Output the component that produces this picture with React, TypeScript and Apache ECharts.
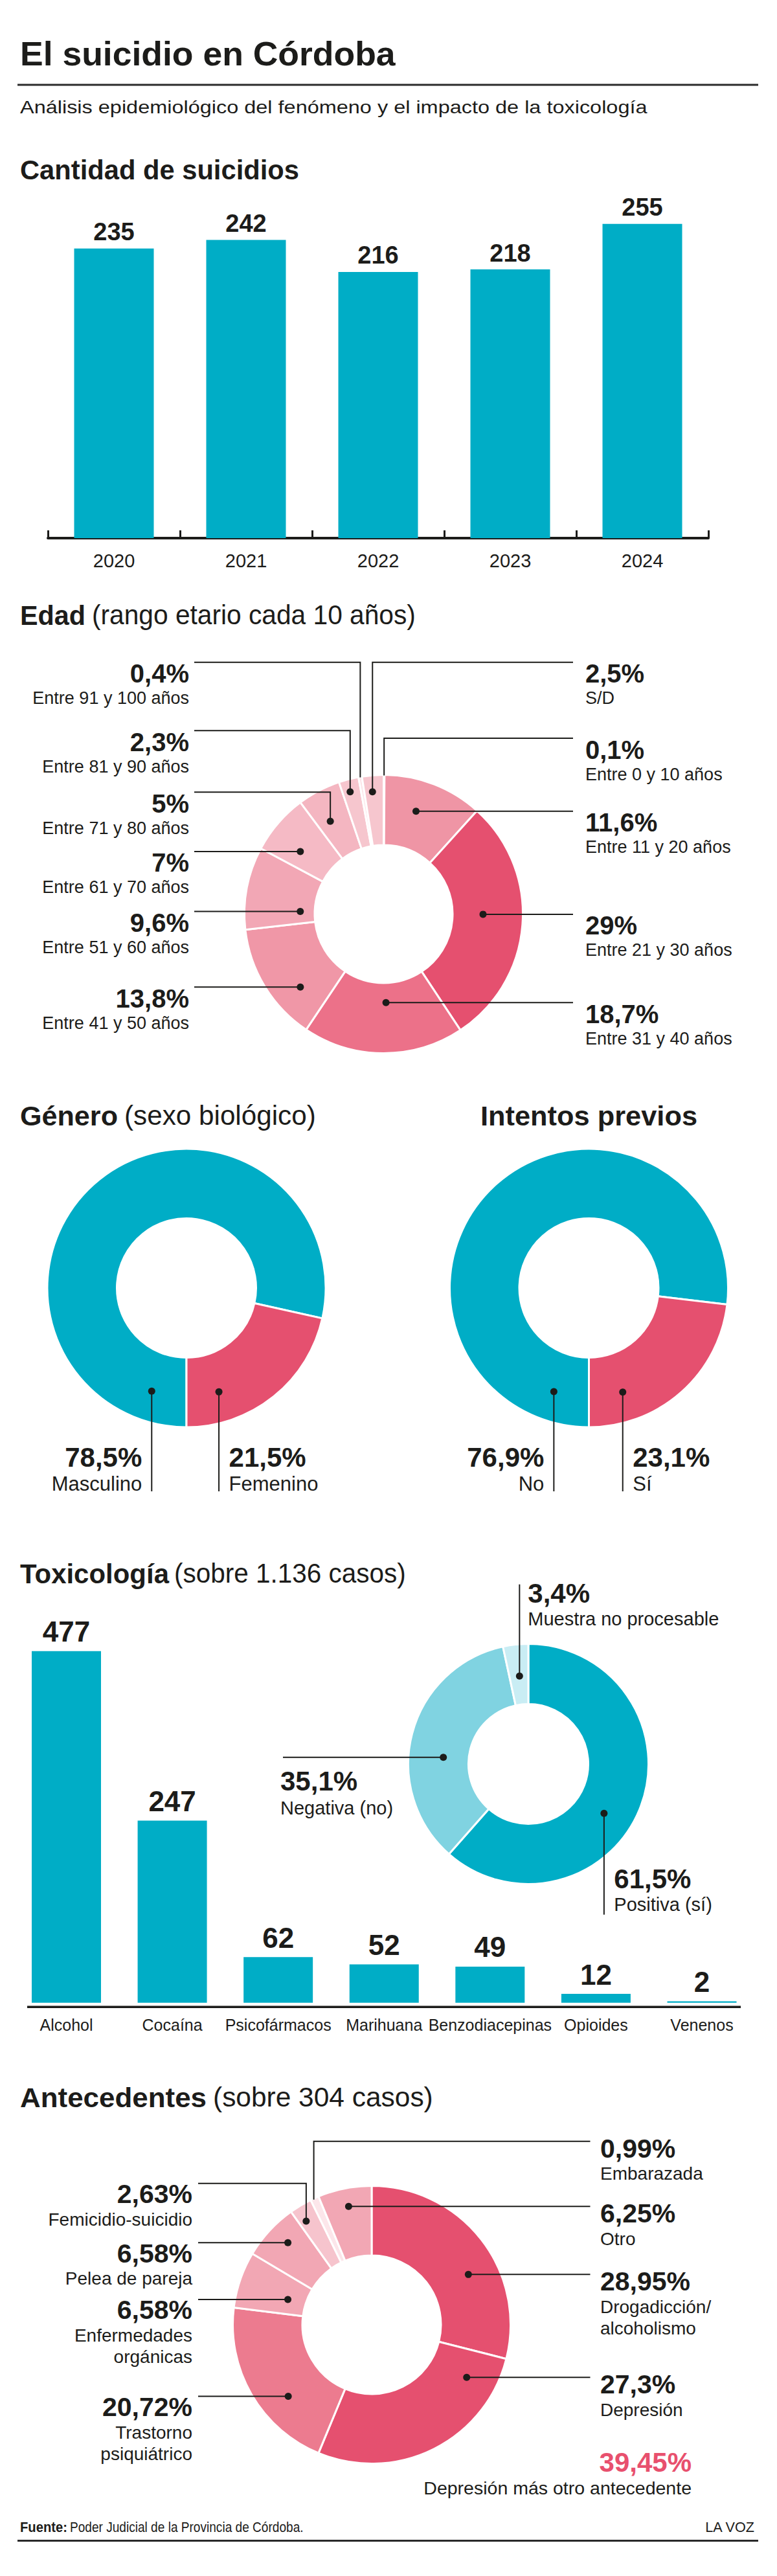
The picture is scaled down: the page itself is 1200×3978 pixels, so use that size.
import React, { useEffect, useRef } from "react";
import * as echarts from "echarts";

const PAGE_W = 1200;
const PAGE_H = 3978;
const FONT = '"Liberation Sans", Arial, Helvetica, sans-serif';
const INK = "#1c1c1a";
const TEAL = "#00adc6";
const RED = "#e5506f";

// Cantidad de suicidios
const years = ["2020", "2021", "2022", "2023", "2024"];
const suicidesPerYear = [235, 242, 216, 218, 255];

// Edad (rango etario cada 10 años), clockwise from 12 o'clock
const ageGroups = [
  "Entre 0 y 10 años",
  "Entre 11 y 20 años",
  "Entre 21 y 30 años",
  "Entre 31 y 40 años",
  "Entre 41 y 50 años",
  "Entre 51 y 60 años",
  "Entre 61 y 70 años",
  "Entre 71 y 80 años",
  "Entre 81 y 90 años",
  "Entre 91 y 100 años",
  "S/D",
];
const agePct = [0.1, 11.6, 29, 18.7, 13.8, 9.6, 7, 5, 2.3, 0.4, 2.5];
const ageColors = ["#f7c8d1", "#ef95a5", "#e5506f", "#ec7189", "#f097a7", "#f2a7b5", "#f5bac5", "#f4b6c1", "#f6c6ce", "#fce4e8", "#f6c6ce"];

// Género (sexo biológico)
const genders = ["Masculino", "Femenino"];
const genderPct = [78.5, 21.5];

// Intentos previos
const attempts = ["No", "Sí"];
const attemptPct = [76.9, 23.1];
const pairColors = [TEAL, RED];

// Toxicología (sobre 1.136 casos)
const substances = ["Alcohol", "Cocaína", "Psicofármacos", "Marihuana", "Benzodiacepinas", "Opioides", "Venenos"];
const substanceCases = [477, 247, 62, 52, 49, 12, 2];
const toxResults = ["Positiva (sí)", "Negativa (no)", "Muestra no procesable"];
const toxPct = [61.5, 35.1, 3.4];
const toxColors = ["#00adc6", "#80d3e1", "#c9edf4"];

// Antecedentes (sobre 304 casos)
const histories = [
  ["Drogadicción/", "alcoholismo"],
  ["Depresión"],
  ["Trastorno", "psiquiátrico"],
  ["Enfermedades", "orgánicas"],
  ["Pelea de pareja"],
  ["Femicidio-suicidio"],
  ["Embarazada"],
  ["Otro"],
];
const historyPct = [28.95, 27.3, 20.72, 6.58, 6.58, 2.63, 0.99, 6.25];
const historyColors = ["#e5506f", "#e5506f", "#ec7b8f", "#f2a7b4", "#f2a7b4", "#f6c4cd", "#fce6ea", "#f2a7b4"];
const depressionPlusOther = 39.45;

// ---------- geometry of the donuts ----------
type Donut = { cx: number; cy: number; r0: number; r1: number; start: number };
const AGE_PIE: Donut = { cx: 592.5, cy: 1411.5, r0: 108, r1: 213.5, start: 90 };
const GENDER_PIE: Donut = { cx: 288, cy: 1989, r0: 109, r1: 213.5, start: 270 };
const ATTEMPT_PIE: Donut = { cx: 909.5, cy: 1989, r0: 109, r1: 213.5, start: 270 };
const TOX_PIE: Donut = { cx: 816, cy: 2724, r0: 94, r1: 184, start: 90 };
const HIST_PIE: Donut = { cx: 574, cy: 3590, r0: 108.5, r1: 213, start: 90 };

const fmtPct = (v: number) => `${String(v).replace(".", ",")}%`;

// point inside slice i: t = share of the slice's sweep, r = distance from the centre
function slicePoint(g: Donut, values: number[], i: number, t: number, r: number): [number, number] {
  const total = values.reduce((a, b) => a + b, 0);
  const before = values.slice(0, i).reduce((a, b) => a + b, 0);
  const clock = 90 - g.start + (360 * (before + t * values[i])) / total;
  const rad = (clock * Math.PI) / 180;
  return [g.cx + r * Math.sin(rad), g.cy - r * Math.cos(rad)];
}

let measureCtx: CanvasRenderingContext2D | null = null;
function textWidth(s: string, size: number, weight: number) {
  if (!measureCtx) measureCtx = document.createElement("canvas").getContext("2d");
  measureCtx!.font = `${weight} ${size}px ${FONT}`;
  return measureCtx!.measureText(s).width;
}

function label(s: string, x: number, y: number, size: number, weight: number, align: string, fit?: number, fill: string = INK) {
  const scaleX = fit ? fit / textWidth(s, size, weight) : 1;
  return {
    type: "text",
    x,
    y,
    scaleX,
    z: 100,
    silent: true,
    style: {
      text: s,
      x: 0,
      y: 0,
      fill,
      fontSize: size,
      fontWeight: weight,
      fontFamily: FONT,
      align,
      verticalAlign: "middle",
      textAlign: align,
      textVerticalAlign: "middle",
    },
  };
}

function leader(points: number[][]) {
  return { type: "polyline", z: 100, silent: true, shape: { points }, style: { stroke: INK, lineWidth: 2, fill: "none" } };
}

function dot(p: number[]) {
  return { type: "circle", z: 101, silent: true, shape: { cx: p[0], cy: p[1], r: 5.5 }, style: { fill: INK } };
}

function bar(x: number, y: number, w: number, h: number, fill = "#2a2a2a") {
  return { type: "rect", z: 100, silent: true, shape: { x, y, width: w, height: h }, style: { fill } };
}

// ---------- callouts placed in a left / right column ----------
type SideLeader = { t: number; r: number; dot?: boolean; side: "L" | "R"; turnY?: number };
type Columns = {
  leftEnd: number;
  rightEnd: number;
  leftText: number;
  rightText: number;
  pctSize: number;
  subSize: number;
  subStep: number;
  L: [number, number];
  R: [number, number];
};

function sideCallouts(g: Donut, values: number[], subs: string[][], leaders: SideLeader[], cols: Columns) {
  const els: any[] = [];
  leaders.forEach((ld, i) => {
    const p = slicePoint(g, values, i, ld.t, ld.r);
    const left = ld.side === "L";
    const endX = left ? cols.leftEnd : cols.rightEnd;
    const lineY = ld.turnY ?? p[1];
    const pts = ld.turnY != null ? [p, [p[0], ld.turnY], [endX, ld.turnY]] : [p, [endX, p[1]]];
    els.push(leader(pts));
    if (ld.dot !== false) els.push(dot(p));
    const tx = left ? cols.leftText : cols.rightText;
    const align = left ? "right" : "left";
    const [dp, ds] = left ? cols.L : cols.R;
    els.push(label(fmtPct(values[i]), tx, lineY + dp, cols.pctSize, 700, align));
    subs[i].forEach((s, k) => els.push(label(s, tx, lineY + ds + k * cols.subStep, cols.subSize, 400, align)));
  });
  return els;
}

const ageLeaders: SideLeader[] = [
  { t: 0.5, r: 214, dot: false, side: "R", turnY: 1140 },
  { t: 0.41, r: 166.4, side: "R" },
  { t: 0.46, r: 153.5, side: "R" },
  { t: 0.475, r: 136.8, side: "R" },
  { t: 0.3, r: 171.1, side: "L" },
  { t: 0.24, r: 128.8, side: "L" },
  { t: 0.35, r: 160.9, side: "L" },
  { t: 0.38, r: 165.3, side: "L", turnY: 1223.3 },
  { t: 0.41, r: 195.7, side: "L", turnY: 1128.3 },
  { t: 0.5, r: 214, dot: false, side: "L", turnY: 1022.7 },
  { t: 0.42, r: 189.6, side: "R", turnY: 1022.7 },
];
const AGE_COLS: Columns = {
  leftEnd: 300,
  rightEnd: 885,
  leftText: 292,
  rightText: 904,
  pctSize: 40,
  subSize: 27,
  subStep: 33,
  L: [17.5, 55.5],
  R: [17.5, 55.5],
};

const historyLeaders: SideLeader[] = [
  { t: 0.6, r: 168.3, side: "R" },
  { t: 0.15, r: 167.7, side: "R" },
  { t: 0.36, r: 169.8, side: "L" },
  { t: 0.41, r: 135.2, side: "L" },
  { t: 0.575, r: 181.1, side: "L" },
  { t: 0.34, r: 189.2, side: "L", turnY: 3371.7 },
  { t: 0.35, r: 213, dot: false, side: "R", turnY: 3306.7 },
  { t: 0.51, r: 186.1, side: "R" },
];
const HIST_COLS: Columns = {
  leftEnd: 306,
  rightEnd: 911.5,
  leftText: 297,
  rightText: 927,
  pctSize: 41,
  subSize: 28,
  subStep: 33,
  L: [16.5, 55.5],
  R: [11, 50],
};

// ---------- callouts dropping straight down under the two small donuts ----------
const PAIR_DROP_Y = 2303;
const PAIR_PCT_Y = 2250;
const PAIR_SUB_Y = 2291;
const genderLeaders = [
  { t: 0.066, r: 168 },
  { t: 0.776, r: 168 },
];
const attemptLeaders = [
  { t: 0.0675, r: 169 },
  { t: 0.7835, r: 169 },
];

function pairCallouts(g: Donut, values: number[], names: string[], leaders: { t: number; r: number }[]) {
  const els: any[] = [];
  leaders.forEach((ld, i) => {
    const p = slicePoint(g, values, i, ld.t, ld.r);
    els.push(leader([p, [p[0], PAIR_DROP_Y]]), dot(p));
    const first = i === 0;
    const tx = first ? p[0] - 15 : p[0] + 15.5;
    const align = first ? "right" : "left";
    els.push(label(fmtPct(values[i]), tx, PAIR_PCT_Y, 42, 700, align));
    els.push(label(names[i], tx, PAIR_SUB_Y, 31, 400, align));
  });
  return els;
}

// ---------- toxicology donut callouts ----------
function toxCallouts() {
  const els: any[] = [];
  // Positiva: drops below the ring
  const pPos = slicePoint(TOX_PIE, toxPct, 0, 0.556, 139.5);
  els.push(leader([pPos, [pPos[0], 2956.7]]), dot(pPos));
  els.push(label(fmtPct(toxPct[0]), pPos[0] + 15.5, 2901, 42, 700, "left"));
  els.push(label(toxResults[0], pPos[0] + 15.5, 2941, 29, 400, "left"));
  // Negativa: runs left, text below the line
  const pNeg = slicePoint(TOX_PIE, toxPct, 1, 0.42, 131.7);
  els.push(leader([pNeg, [437, pNeg[1]]]), dot(pNeg));
  els.push(label(fmtPct(toxPct[1]), 433, pNeg[1] + 37, 42, 700, "left"));
  els.push(label(toxResults[1], 433, pNeg[1] + 78, 29, 400, "left"));
  // Muestra no procesable: rises above the ring
  const pNp = slicePoint(TOX_PIE, toxPct, 2, 0.53, 136.4);
  els.push(leader([pNp, [pNp[0], 2446.7]]), dot(pNp));
  els.push(label(fmtPct(toxPct[2]), pNp[0] + 13, 2460, 42, 700, "left"));
  els.push(label(toxResults[2], pNp[0] + 13, 2500, 29, 400, "left"));
  return els;
}

function donutSeries(g: Donut, names: string[], values: number[], colors: string[]) {
  return {
    type: "pie",
    center: [g.cx, g.cy],
    radius: [g.r0 - 1.5, g.r1 + 1.5],
    startAngle: g.start,
    clockwise: true,
    silent: true,
    label: { show: false },
    labelLine: { show: false },
    emphasis: { disabled: true },
    itemStyle: { borderColor: "#ffffff", borderWidth: 3 },
    data: values.map((v, i) => ({ value: v, name: names[i], itemStyle: { color: colors[i] } })),
  };
}

function buildOption() {
  const elements: any[] = [
    // header
    label("El suicidio en Córdoba", 31, 82.5, 52, 700, "left", 580),
    bar(27, 129.5, 1144, 3),
    label("Análisis epidemiológico del fenómeno y el impacto de la toxicología", 31, 166, 27, 400, "left", 969),
    // section headings
    label("Cantidad de suicidios", 31, 262, 42, 700, "left", 431),
    label("Edad", 31, 950, 42, 700, "left", 101),
    label("(rango etario cada 10 años)", 142, 950, 42, 400, "left", 500),
    label("Género", 31, 1723, 42, 700, "left", 151),
    label("(sexo biológico)", 192, 1723, 42, 400, "left", 296),
    label("Intentos previos", 742, 1723, 42, 700, "left", 335),
    label("Toxicología", 31, 2430, 42, 700, "left", 230),
    label("(sobre 1.136 casos)", 269, 2430, 42, 400, "left", 358),
    label("Antecedentes", 31, 3239, 42, 700, "left", 288),
    label("(sobre 304 casos)", 329, 3239, 42, 400, "left", 340),
    // baseline under the toxicology bars
    bar(42, 3097.5, 1102, 3.5, INK),
    // callouts
    ...sideCallouts(AGE_PIE, agePct, ageGroups.map((s) => [s]), ageLeaders, AGE_COLS),
    ...pairCallouts(GENDER_PIE, genderPct, genders, genderLeaders),
    ...pairCallouts(ATTEMPT_PIE, attemptPct, attempts, attemptLeaders),
    ...toxCallouts(),
    ...sideCallouts(HIST_PIE, historyPct, histories, historyLeaders, HIST_COLS),
    label(fmtPct(depressionPlusOther), 1068, 3802, 42, 700, "right", undefined, "#e8506e"),
    label("Depresión más otro antecedente", 1068, 3842, 28, 400, "right", 414),
    // footer
    label("Fuente:", 31, 3902, 22, 700, "left", 73),
    label("Poder Judicial de la Provincia de Córdoba.", 108, 3902, 22, 400, "left", 361),
    label("LA VOZ", 1165, 3902, 22, 400, "right", 77),
    bar(27, 3922, 1144, 3),
  ];

  return {
    animation: false,
    backgroundColor: "#ffffff",
    grid: [
      { left: 74, top: 260, width: 1020, height: 571 },
      { left: 20.7, top: 2523.7, width: 1145.1, height: 569 },
    ],
    xAxis: [
      {
        gridIndex: 0,
        type: "category",
        data: years,
        offset: 7,
        axisLine: { lineStyle: { color: INK, width: 4 } },
        axisTick: { show: true, inside: true, length: 12, lineStyle: { color: INK, width: 3 } },
        axisLabel: { interval: 0, color: INK, fontFamily: FONT, fontSize: 29, lineHeight: 29, margin: 13 },
      },
      {
        gridIndex: 1,
        type: "category",
        data: substances,
        offset: 6,
        axisLine: { show: false },
        axisTick: { show: false },
        axisLabel: { interval: 0, color: INK, fontFamily: FONT, fontSize: 25, lineHeight: 25, margin: 16 },
      },
    ],
    yAxis: [
      { gridIndex: 0, type: "value", min: 0, max: 300, show: false },
      { gridIndex: 1, type: "value", min: 0, max: 500, show: false },
    ],
    series: [
      {
        type: "bar",
        xAxisIndex: 0,
        yAxisIndex: 0,
        data: suicidesPerYear,
        barWidth: 123,
        silent: true,
        itemStyle: { color: TEAL },
        label: { show: true, position: "top", distance: 6.5, color: INK, fontFamily: FONT, fontSize: 38, fontWeight: 700, lineHeight: 38 },
      },
      {
        type: "bar",
        xAxisIndex: 1,
        yAxisIndex: 1,
        data: substanceCases,
        barWidth: 107,
        silent: true,
        itemStyle: { color: TEAL },
        label: { show: true, position: "top", distance: 8, color: INK, fontFamily: FONT, fontSize: 44, fontWeight: 700, lineHeight: 44 },
      },
      donutSeries(AGE_PIE, ageGroups, agePct, ageColors),
      donutSeries(GENDER_PIE, genders, genderPct, pairColors),
      donutSeries(ATTEMPT_PIE, attempts, attemptPct, pairColors),
      donutSeries(TOX_PIE, toxResults, toxPct, toxColors),
      donutSeries(HIST_PIE, histories.map((h) => h.join(" ")), historyPct, historyColors),
    ],
    graphic: { elements },
  };
}

export default function App() {
  const ref = useRef<HTMLDivElement>(null);
  useEffect(() => {
    if (!ref.current) return;
    const chart = echarts.init(ref.current, null, { renderer: "svg" });
    chart.setOption(buildOption() as any);
    return () => chart.dispose();
  }, []);
  return (
    <div
      ref={ref}
      style={{ position: "absolute", left: 0, top: 0, width: PAGE_W, height: PAGE_H, background: "#ffffff" }}
    />
  );
}
